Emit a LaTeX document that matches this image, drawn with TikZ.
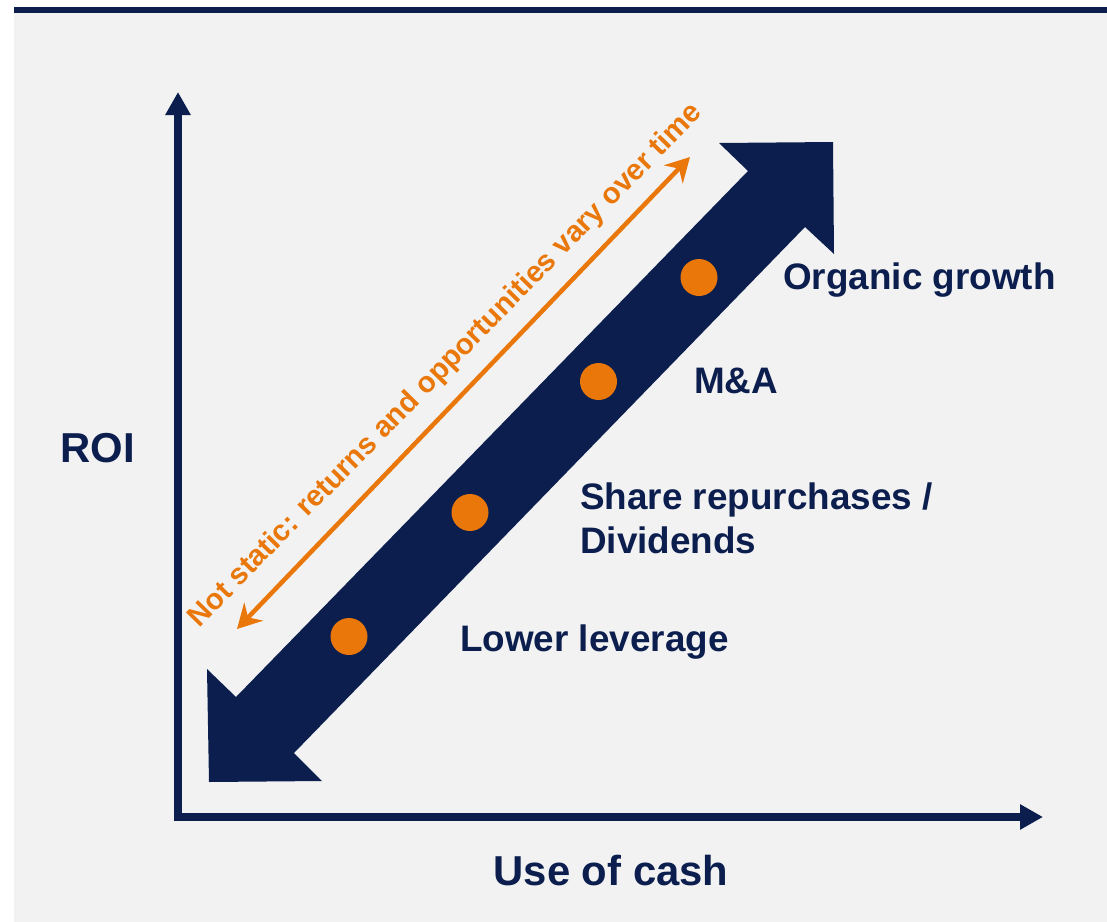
\documentclass[tikz,border=0pt]{standalone}
\usepackage{fontspec}
\setmainfont{Liberation Sans}
\usetikzlibrary{arrows.meta}
\definecolor{navy}{HTML}{0B1E4E}
\definecolor{orng}{HTML}{E9770A}
\definecolor{bg}{HTML}{F2F2F2}
\begin{document}
\begin{tikzpicture}[x=1bp,y=-1bp,
  lbl/.style={font=\bfseries\fontsize{37}{44}\selectfont, text=navy, inner sep=0, anchor=base west},
  axlbl/.style={font=\bfseries\fontsize{42}{48}\selectfont, text=navy, inner sep=0, anchor=base},
  dot/.style={circle, fill=orng, minimum size=37bp, inner sep=0},
  axisline/.style={draw=navy, line width=8bp, line join=miter,
    {Triangle[length=23bp,width=24bp]}-{Triangle[length=23bp,width=24bp]}},
  notearrow/.style={draw=orng, line width=4.5bp,
    {Stealth[length=24bp,width=26bp,inset=8bp]}-{Stealth[length=24bp,width=26bp,inset=8bp]}},
  notetext/.style={font=\bfseries\fontsize{29.5}{34}\selectfont, text=orng, inner sep=0}]
\useasboundingbox (0,0) rectangle (1107,922);
\fill[white] (0,0) rectangle (1107,922);
\fill[bg] (14,12.5) rectangle (1107,922);
\fill[navy] (14,7) rectangle (1107,12.5);
% big double arrow
\fill[navy] (719,143) -- (833,142) -- (834,254) -- (805,227) -- (294,753)
  -- (322,781) -- (209,782) -- (207,669) -- (236,697) -- (748,171) -- cycle;
% axes
\coordinate (ytip) at (178,92);
\coordinate (origin) at (178,817);
\coordinate (xtip) at (1043,817);
\draw[axisline] (ytip) -- (origin) -- (xtip);
% orange note arrow
\coordinate (na) at (237,629);
\coordinate (nb) at (690,157);
\draw[notearrow] (na) -- (nb);
\node[notetext, rotate=45.6] (note) at (446,366) {Not static: returns and opportunities vary over time};
% dots
\node[dot] (d1) at (699,277.5) {};
\node[dot] (d2) at (598.5,381.5) {};
\node[dot] (d3) at (470,512.5) {};
\node[dot] (d4) at (349,636.5) {};
% labels
\node[lbl] (l1) at (783,289) {Organic growth};
\node[lbl] (l2) at (694,393) {M\&A};
\node[lbl] (l3) at (580,509) {Share repurchases /};
\node[lbl] (l3b) at (580,553) {Dividends};
\node[lbl] (l4) at (460,651) {Lower leverage};
\node[axlbl] (roi) at (97.5,462) {ROI};
\node[axlbl] (cash) at (611,885) {Use of cash};
\end{tikzpicture}
\end{document}
